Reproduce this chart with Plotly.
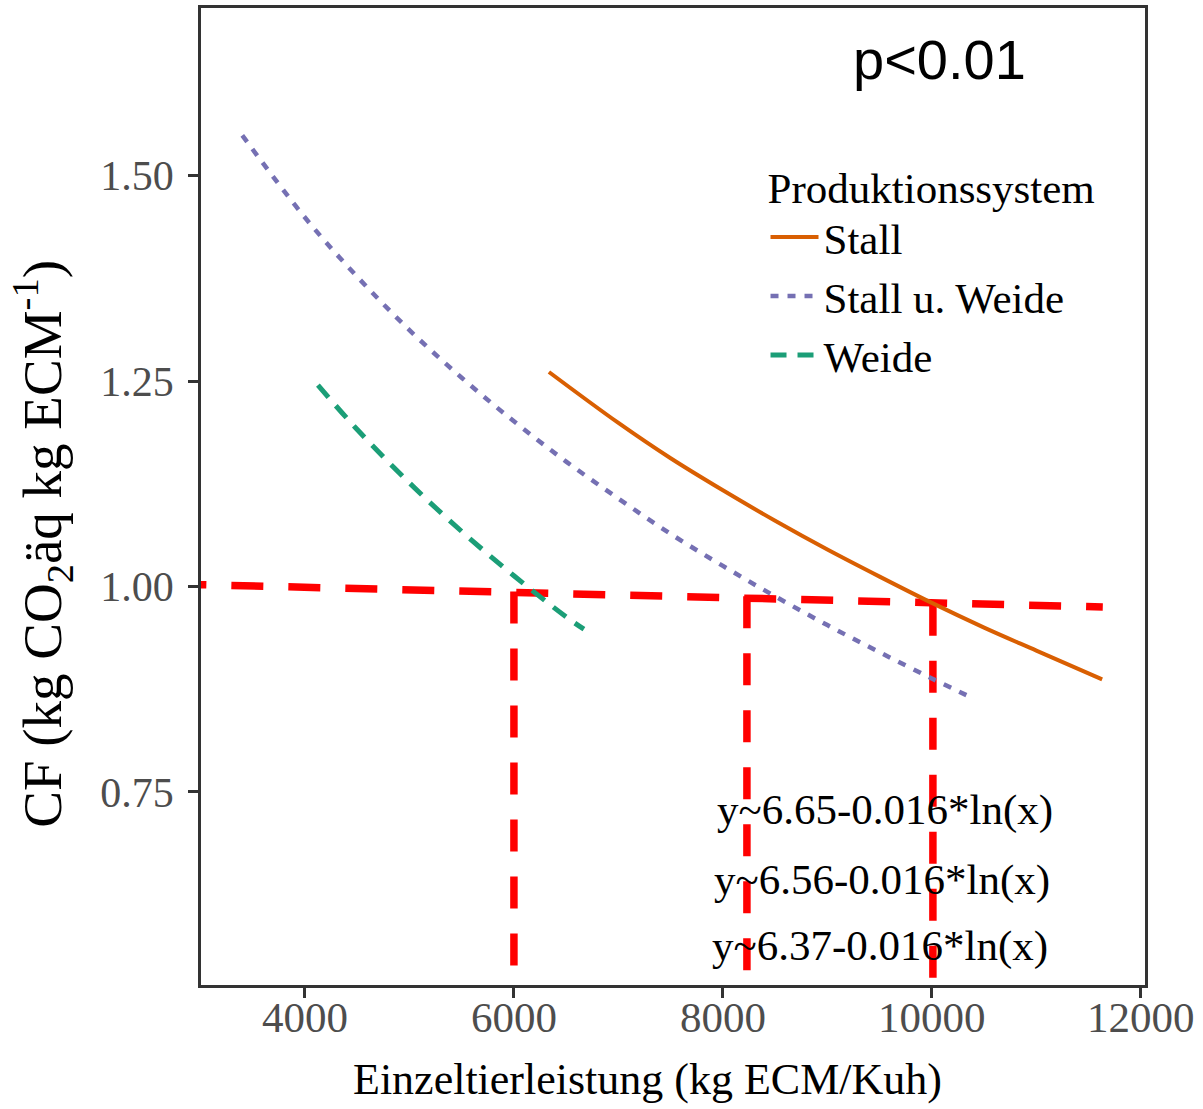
import plotly.graph_objects as go

# ---- data ----
stall_x = [6335, 7000, 7500, 8000, 8500, 9000, 9500, 10000, 10500, 11000, 11630]
stall_y = [1.261, 1.199, 1.156, 1.117, 1.080, 1.045, 1.012, 0.980, 0.950, 0.922, 0.887]

sw_x = [3400, 4000, 4500, 5000, 5500, 6000, 6500, 7000, 7500, 8000, 8500, 9000, 9500, 10000, 10410]
sw_y = [1.549, 1.449, 1.377, 1.312, 1.254, 1.201, 1.152, 1.107, 1.064, 1.025, 0.988, 0.953, 0.920, 0.888, 0.863]

weide_x = [4124, 4500, 5000, 5500, 6000, 6500, 6670]
weide_y = [1.245, 1.191, 1.126, 1.067, 1.013, 0.963, 0.948]

# red reference lines
ref_h_x = [2750, 11636]
ref_h_y = [1.003, 0.975]
ref_v_x = [6000, 8230, 10010]
ref_v_top = [0.994, 0.988, 0.979]
ref_v_bottom = [0.525, 0.528, 0.515]

equations = ["y~6.65-0.016*ln(x)", "y~6.56-0.016*ln(x)", "y~6.37-0.016*ln(x)"]
eq_x = [9550, 9520, 9500]
eq_y = [0.728, 0.643, 0.562]

x_ticks = [4000, 6000, 8000, 10000, 12000]
y_ticks = [0.75, 1.00, 1.25, 1.50]
y_tick_text = ["0.75", "1.00", "1.25", "1.50"]

x_title = "Einzeltierleistung (kg ECM/Kuh)"
y_title = "CF (kg CO<sub>2</sub>äq kg ECM<sup>-1</sup>)"

SERIF = "Liberation Serif"
RED = "#FF0000"

fig = go.Figure()

fig.add_trace(go.Scatter(x=stall_x, y=stall_y, mode="lines", name="Stall",
                         line=dict(color="#D95F02", width=4, shape="spline")))
fig.add_trace(go.Scatter(x=sw_x, y=sw_y, mode="lines", name="Stall u. Weide",
                         line=dict(color="#7570B3", width=4.5, dash="8px,9px", shape="spline")))
fig.add_trace(go.Scatter(x=weide_x, y=weide_y, mode="lines", name="Weide",
                         line=dict(color="#1B9E77", width=5, dash="16px,11px", shape="spline")))

shapes = []
shapes.append(dict(type="line", xref="x", yref="y", x0=ref_h_x[0], x1=ref_h_x[1],
                   y0=ref_h_y[0], y1=ref_h_y[1], layer="below",
                   line=dict(color=RED, width=7.5, dash="32px,25px")))
for vx, vt, vb in zip(ref_v_x, ref_v_top, ref_v_bottom):
    shapes.append(dict(type="line", xref="x", yref="y", x0=vx, x1=vx, y0=vt, y1=vb,
                       layer="below", line=dict(color=RED, width=7.5, dash="32px,25px")))

annotations = []
for t, ex, ey in zip(equations, eq_x, eq_y):
    annotations.append(dict(x=ex, y=ey, xref="x", yref="y", text=t, showarrow=False,
                            font=dict(family=SERIF, size=43, color="black")))
annotations.append(dict(x=10077, y=1.641, xref="x", yref="y", text="p<0.01", showarrow=False,
                        font=dict(family="Liberation Sans", size=56, color="black")))
# axis titles as annotations (offset like the reference)
annotations.append(dict(x=0.4735, y=-0.097, xref="paper", yref="paper", text=x_title,
                        showarrow=False, xanchor="center", yanchor="middle",
                        font=dict(family=SERIF, size=44, color="black")))
annotations.append(dict(x=-0.168, y=0.452, xref="paper", yref="paper", text=y_title,
                        showarrow=False, xanchor="center", yanchor="middle", textangle=-90,
                        font=dict(family=SERIF, size=55, color="black")))

fig.update_layout(
    width=1203, height=1109,
    margin=dict(l=201, r=58, t=5, b=124),
    paper_bgcolor="white", plot_bgcolor="white",
    shapes=shapes, annotations=annotations,
    legend=dict(
        title=dict(text="Produktionssystem", font=dict(family=SERIF, size=43, color="black")),
        font=dict(family=SERIF, size=43, color="black"),
        x=0.598, y=0.858, xanchor="left", yanchor="top",
        itemwidth=48,
        bgcolor="rgba(0,0,0,0)",
    ),
    xaxis=dict(
        range=[3005, 12040], tickvals=x_ticks, ticktext=[str(v) for v in x_ticks],
        showgrid=False, zeroline=False, showline=True, mirror=True,
        linecolor="#333333", linewidth=2.5, ticks="outside", ticklen=10,
        tickcolor="#333333", tickwidth=2.5, ticklabelstandoff=-17,
        tickfont=dict(family=SERIF, size=43, color="#4D4D4D"),
    ),
    yaxis=dict(
        range=[0.515, 1.704], tickvals=y_ticks, ticktext=y_tick_text,
        showgrid=False, zeroline=False, showline=True, mirror=True,
        linecolor="#333333", linewidth=2.5, ticks="outside", ticklen=10,
        tickcolor="#333333", tickwidth=2.5, ticklabelstandoff=6,
        tickfont=dict(family=SERIF, size=42, color="#4D4D4D"),
    ),
)

fig.write_html("out.html")
